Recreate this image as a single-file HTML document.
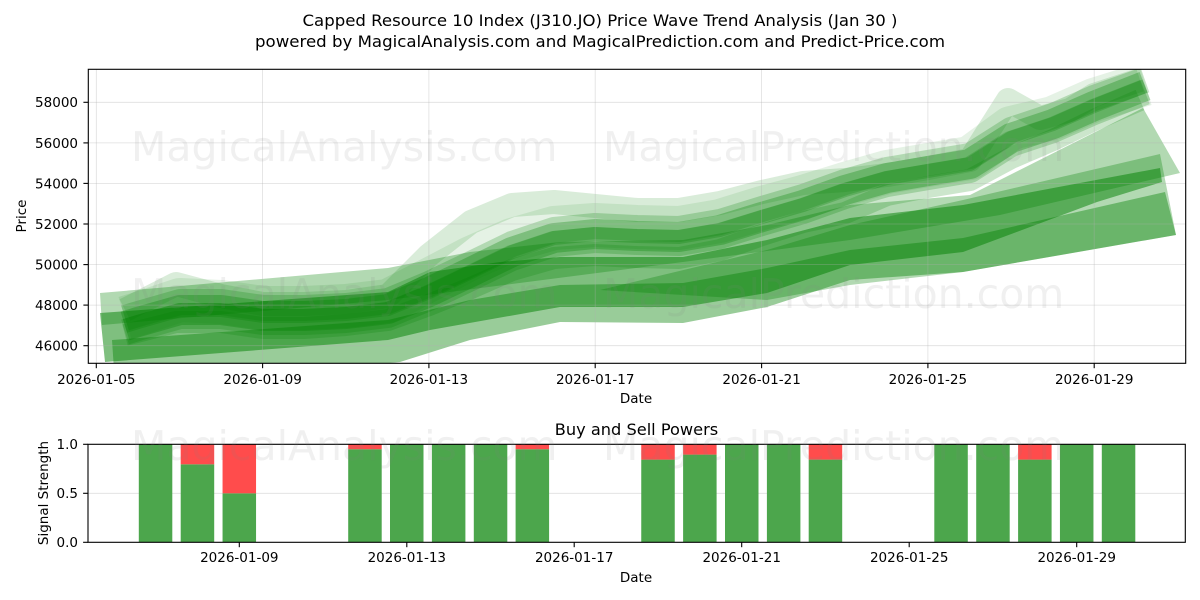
<!DOCTYPE html>
<html><head><meta charset="utf-8"><style>
html,body{margin:0;padding:0;background:#fff;}
svg{display:block;}
text{font-family:"DejaVu Sans","Liberation Sans",sans-serif;}
</style></head><body>
<svg width="1200" height="600" viewBox="0 0 1200 600" xmlns="http://www.w3.org/2000/svg">
<defs>
<clipPath id="ct"><rect x="88.3" y="69.3" width="1097.4" height="294"/></clipPath>
</defs>
<rect width="1200" height="600" fill="#fff"/>

<!-- Titles -->
<text x="600" y="26" font-size="16.2" text-anchor="middle" textLength="595" lengthAdjust="spacingAndGlyphs">Capped Resource 10 Index (J310.JO) Price Wave Trend Analysis (Jan 30 )</text>
<text x="600" y="47" font-size="16.2" text-anchor="middle" textLength="690" lengthAdjust="spacingAndGlyphs">powered by MagicalAnalysis.com and MagicalPrediction.com and Predict-Price.com</text>

<!-- Top chart content -->
<g clip-path="url(#ct)">
  <!-- lower bands -->
  <polygon fill="#008000" fill-opacity="0.4" points="112,340 388,320 470,300 560,285 683,283 767,268 850,250 963,238 1165,192 1176,235 963,272 850,280 767,307 683,323 560,322 470,340 400,362 300,372 115,385"/>
  <polygon fill="#008000" fill-opacity="0.3" points="100,293 388,268 470,252 560,242 683,240 767,225 850,205 970,195 1143,108 1180,173 1000,215 850,240 683,262 388,300 102,325"/>
  <polygon fill="#008000" fill-opacity="0.3" points="600,290 767,250 850,225 963,200 1160,154 1176,235 963,272 850,285 767,300"/>
  <polygon fill="#008000" fill-opacity="0.5" points="100,313 388,292 430,272 500,262 560,257 683,257 767,240 850,218 963,205 1160,168 1162,182 1097,202 963,252 850,265 767,293 683,307 560,307 430,330 388,340 105,362"/>

  <!-- upper cluster -->
  <g fill="none" stroke="#008000" stroke-linejoin="round" stroke-linecap="butt">
    <polyline stroke-width="44" stroke-opacity="0.1" points="125,318 138,314 180,300 221,302 263,308 304,308 346,306 388,301 429,280 471,258 512,240 554,228 595,225 637,227 679,228 720,221 762,208 803,197 845,184 887,172 928,165 970,158 1011,128 1053,118 1094,100 1145,84"/>
    <polyline stroke-width="24" stroke-opacity="0.15" points="125,310 176,284 221,296 263,304 304,304 346,302 388,296 429,255 471,222 512,205 554,202 595,206 637,210 679,210 720,203 762,192 803,183 845,180 887,175 928,168 970,160 1008,100 1040,118 1070,110 1094,95 1140,80"/>
    <polyline stroke-width="22" stroke-opacity="0.2" points="125,335 176,322 221,322 263,328 304,328 346,325 388,320 429,305 471,288 512,270 554,258 595,255 637,257 679,258 720,250 762,235 803,222 845,213 887,195 928,187 970,180 1011,158 1053,140 1094,120 1140,100"/>
    <polyline stroke-width="30" stroke-opacity="0.3" points="125,326 138,322 180,310 221,310 263,316 304,316 346,314 388,309 429,292 471,272 512,252 554,238 595,234 637,236 679,237 720,230 762,217 803,205 845,190 887,178 928,171 970,164 1011,138 1053,124 1094,106 1145,86"/>
    <polyline stroke-width="26" stroke-opacity="0.22" points="125,318 138,314 180,302 221,302 263,308 304,308 346,306 388,301 429,284 471,264 512,244 554,230 595,226 637,228 679,229 720,222 762,209 803,197 845,182 887,170 928,163 970,156 1011,130 1053,116 1094,98 1145,80"/>
    <polyline stroke-width="26" stroke-opacity="0.22" points="125,332 138,328 180,316 221,316 263,322 304,322 346,320 388,315 429,298 471,278 512,258 554,244 595,240 637,242 679,243 720,236 762,223 803,211 845,196 887,184 928,177 970,170 1011,144 1053,130 1094,112 1145,92"/>
    <polyline stroke-width="14" stroke-opacity="0.25" points="125,326 138,322 180,310 221,310 263,316 304,316 346,314 388,309 429,292 471,272 512,252 554,238 595,234 637,236 679,237 720,230 762,217 803,205 845,190 887,178 928,171 970,164 1011,138 1053,124 1094,106 1145,86"/>
  </g>
</g>

<!-- top grid -->
<g stroke="#b0b0b0" stroke-opacity="0.4" stroke-width="0.8">
  <line x1="88.3" x2="1185.7" y1="345.7" y2="345.7"/>
  <line x1="88.3" x2="1185.7" y1="305.1" y2="305.1"/>
  <line x1="88.3" x2="1185.7" y1="264.6" y2="264.6"/>
  <line x1="88.3" x2="1185.7" y1="224.0" y2="224.0"/>
  <line x1="88.3" x2="1185.7" y1="183.4" y2="183.4"/>
  <line x1="88.3" x2="1185.7" y1="142.9" y2="142.9"/>
  <line x1="88.3" x2="1185.7" y1="102.3" y2="102.3"/>
  <line x1="96.3" x2="96.3" y1="69.3" y2="363.3"/>
  <line x1="262.6" x2="262.6" y1="69.3" y2="363.3"/>
  <line x1="428.9" x2="428.9" y1="69.3" y2="363.3"/>
  <line x1="595.2" x2="595.2" y1="69.3" y2="363.3"/>
  <line x1="761.6" x2="761.6" y1="69.3" y2="363.3"/>
  <line x1="927.9" x2="927.9" y1="69.3" y2="363.3"/>
  <line x1="1094.2" x2="1094.2" y1="69.3" y2="363.3"/>
</g>

<!-- top axes frame & ticks -->
<rect x="88.3" y="69.3" width="1097.4" height="294" fill="none" stroke="#000" stroke-width="1.1"/>
<g stroke="#000" stroke-width="1.1">
  <line x1="83.4" x2="88.3" y1="345.7" y2="345.7"/>
  <line x1="83.4" x2="88.3" y1="305.1" y2="305.1"/>
  <line x1="83.4" x2="88.3" y1="264.6" y2="264.6"/>
  <line x1="83.4" x2="88.3" y1="224.0" y2="224.0"/>
  <line x1="83.4" x2="88.3" y1="183.4" y2="183.4"/>
  <line x1="83.4" x2="88.3" y1="142.9" y2="142.9"/>
  <line x1="83.4" x2="88.3" y1="102.3" y2="102.3"/>
  <line x1="96.3" x2="96.3" y1="363.3" y2="368.2"/>
  <line x1="262.6" x2="262.6" y1="363.3" y2="368.2"/>
  <line x1="428.9" x2="428.9" y1="363.3" y2="368.2"/>
  <line x1="595.2" x2="595.2" y1="363.3" y2="368.2"/>
  <line x1="761.6" x2="761.6" y1="363.3" y2="368.2"/>
  <line x1="927.9" x2="927.9" y1="363.3" y2="368.2"/>
  <line x1="1094.2" x2="1094.2" y1="363.3" y2="368.2"/>
</g>
<g font-size="13.5" fill="#000">
  <g text-anchor="end">
    <text x="78" y="350.6">46000</text>
    <text x="78" y="310.0">48000</text>
    <text x="78" y="269.5">50000</text>
    <text x="78" y="228.9">52000</text>
    <text x="78" y="188.3">54000</text>
    <text x="78" y="147.8">56000</text>
    <text x="78" y="107.2">58000</text>
  </g>
  <g text-anchor="middle">
    <text x="96.3" y="384">2026-01-05</text>
    <text x="262.6" y="384">2026-01-09</text>
    <text x="428.9" y="384">2026-01-13</text>
    <text x="595.2" y="384">2026-01-17</text>
    <text x="761.6" y="384">2026-01-21</text>
    <text x="927.9" y="384">2026-01-25</text>
    <text x="1094.2" y="384">2026-01-29</text>
    <text x="636" y="403">Date</text>
  </g>
  <text transform="translate(26,216) rotate(-90)" text-anchor="middle">Price</text>
</g>

<!-- Bottom chart -->
<line x1="88" x2="1185.3" y1="493.3" y2="493.3" stroke="#b0b0b0" stroke-opacity="0.4" stroke-width="0.8"/>
<g fill="#4ca64c">
  <rect x="138.8" y="444.3" width="33.5" height="98"/>
  <rect x="180.7" y="464.3" width="33.5" height="78"/>
  <rect x="222.55" y="493.3" width="33.5" height="49"/>
  <rect x="348.2" y="449.2" width="33.5" height="93.1"/>
  <rect x="390.0" y="444.3" width="33.5" height="98"/>
  <rect x="431.9" y="444.3" width="33.5" height="98"/>
  <rect x="473.8" y="444.3" width="33.5" height="98"/>
  <rect x="515.6" y="449.2" width="33.5" height="93.1"/>
  <rect x="641.25" y="459.6" width="33.5" height="82.7"/>
  <rect x="683.1" y="454.6" width="33.5" height="87.7"/>
  <rect x="725.0" y="444.3" width="33.5" height="98"/>
  <rect x="766.9" y="444.3" width="33.5" height="98"/>
  <rect x="808.7" y="459.6" width="33.5" height="82.7"/>
  <rect x="934.3" y="444.3" width="33.5" height="98"/>
  <rect x="976.2" y="444.3" width="33.5" height="98"/>
  <rect x="1018.1" y="459.6" width="33.5" height="82.7"/>
  <rect x="1059.95" y="444.3" width="33.5" height="98"/>
  <rect x="1101.8" y="444.3" width="33.5" height="98"/>
</g>
<g fill="#ff4c4c">
  <rect x="180.7" y="444.3" width="33.5" height="20"/>
  <rect x="222.55" y="444.3" width="33.5" height="49"/>
  <rect x="348.2" y="444.3" width="33.5" height="4.9"/>
  <rect x="515.6" y="444.3" width="33.5" height="4.9"/>
  <rect x="641.25" y="444.3" width="33.5" height="15.3"/>
  <rect x="683.1" y="444.3" width="33.5" height="10.3"/>
  <rect x="808.7" y="444.3" width="33.5" height="15.3"/>
  <rect x="1018.1" y="444.3" width="33.5" height="15.3"/>
</g>
<rect x="88" y="444.3" width="1097.3" height="98" fill="none" stroke="#000" stroke-width="1.1"/>
<g stroke="#000" stroke-width="1.1">
  <line x1="83.1" x2="88" y1="444.3" y2="444.3"/>
  <line x1="83.1" x2="88" y1="493.3" y2="493.3"/>
  <line x1="83.1" x2="88" y1="542.3" y2="542.3"/>
  <line x1="239.3" x2="239.3" y1="542.3" y2="547.2"/>
  <line x1="406.8" x2="406.8" y1="542.3" y2="547.2"/>
  <line x1="574.2" x2="574.2" y1="542.3" y2="547.2"/>
  <line x1="741.7" x2="741.7" y1="542.3" y2="547.2"/>
  <line x1="909.2" x2="909.2" y1="542.3" y2="547.2"/>
  <line x1="1076.7" x2="1076.7" y1="542.3" y2="547.2"/>
</g>
<g font-size="13.5" fill="#000">
  <g text-anchor="end">
    <text x="78" y="449.2">1.0</text>
    <text x="78" y="498.2">0.5</text>
    <text x="78" y="547.2">0.0</text>
  </g>
  <g text-anchor="middle">
    <text x="239.3" y="562">2026-01-09</text>
    <text x="406.8" y="562">2026-01-13</text>
    <text x="574.2" y="562">2026-01-17</text>
    <text x="741.7" y="562">2026-01-21</text>
    <text x="909.2" y="562">2026-01-25</text>
    <text x="1076.7" y="562">2026-01-29</text>
    <text x="636" y="582">Date</text>
  </g>
  <text transform="translate(48,493) rotate(-90)" text-anchor="middle">Signal Strength</text>
</g>
<text x="636.5" y="435" font-size="16.2" text-anchor="middle">Buy and Sell Powers</text>

<!-- Watermarks -->
<g font-size="41" fill="#808080" fill-opacity="0.12">
  <text x="131" y="161">MagicalAnalysis.com</text>
  <text x="603" y="161">MagicalPrediction.com</text>
  <text x="131" y="308">MagicalAnalysis.com</text>
  <text x="603" y="308">MagicalPrediction.com</text>
  <text x="131" y="460">MagicalAnalysis.com</text>
  <text x="603" y="460">MagicalPrediction.com</text>
</g>
</svg>
</body></html>
